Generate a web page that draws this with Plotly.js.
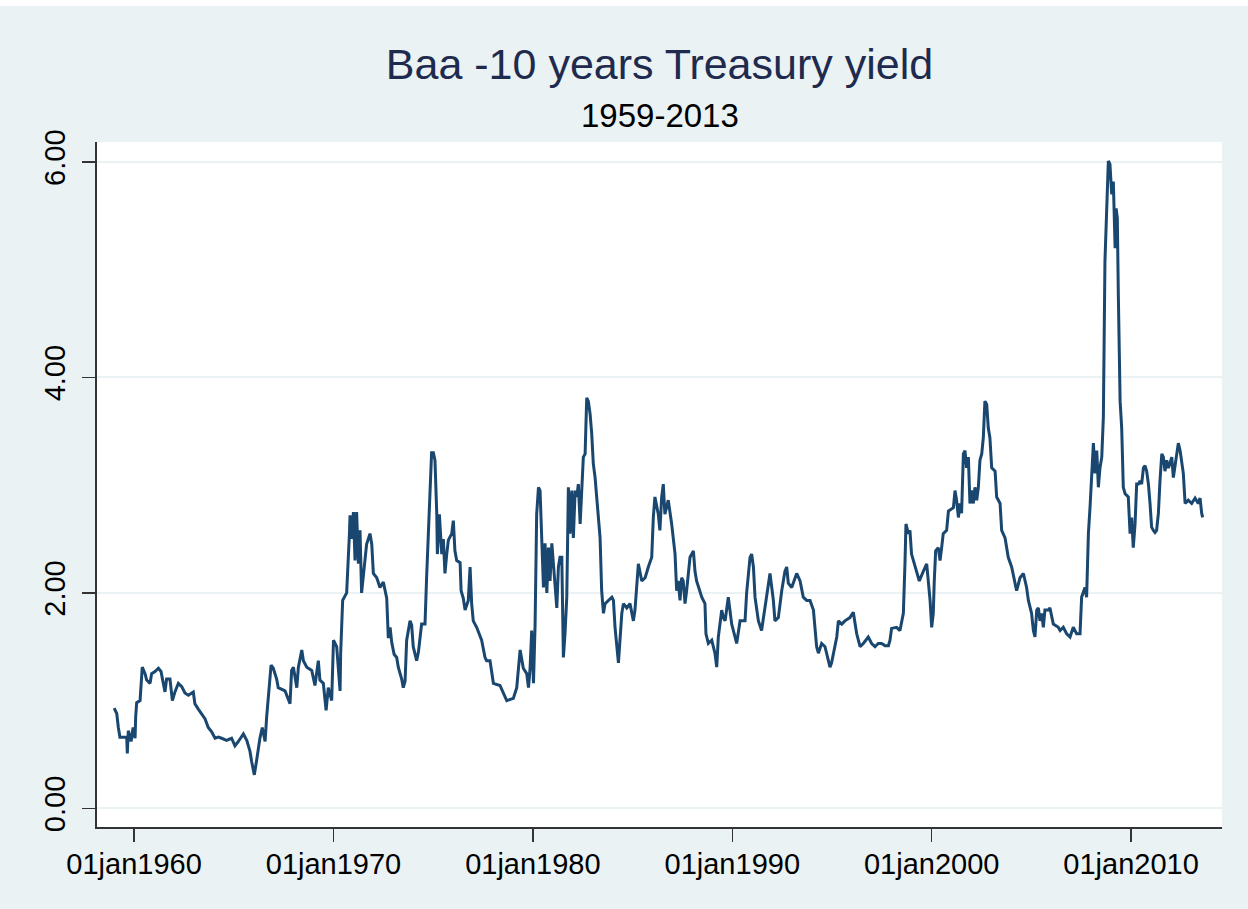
<!DOCTYPE html>
<html>
<head>
<meta charset="utf-8">
<script src="https://cdn.plot.ly/plotly-3.0.1.min.js"></script>
<style>html,body{margin:0;padding:0;background:#ffffff;}#chart{width:1248px;height:909px;}</style>
</head>
<body>
<div id="chart"></div>
<script>
// Baa - 10y Treasury spread (decimal year, percent)
const years1959_1977 = [1959.00,1959.13,1959.21,1959.29,1959.63,1959.66,1959.71,1959.85,1959.95,1960.05,1960.08,1960.13,1960.30,1960.35,1960.41,1960.55,1960.63,1960.80,1960.88,1961.05,1961.22,1961.35,1961.47,1961.55,1961.63,1961.80,1961.92,1962.05,1962.22,1962.39,1962.55,1962.72,1962.97,1963.05,1963.22,1963.39,1963.56,1963.72,1963.89,1964.06,1964.23,1964.39,1964.64,1964.89,1965.06,1965.23,1965.48,1965.65,1965.81,1965.90,1966.03,1966.15,1966.23,1966.31,1966.43,1966.57,1966.65,1966.73,1966.87,1966.98,1967.15,1967.23,1967.57,1967.82,1967.90,1967.99,1968.16,1968.24,1968.41,1968.49,1968.66,1968.91,1969.07,1969.24,1969.32,1969.49,1969.63,1969.74,1969.91,1970.00,1970.16,1970.33,1970.36,1970.46,1970.66,1970.80,1970.83,1970.91,1971.00,1971.08,1971.16,1971.25,1971.33,1971.41,1971.50,1971.66,1971.83,1971.92,1972.00,1972.17,1972.33,1972.50,1972.67,1972.75,1972.84,1972.92,1973.04,1973.17,1973.25,1973.42,1973.50,1973.59,1973.67,1973.84,1973.92,1974.00,1974.17,1974.26,1974.42,1974.59,1974.67,1974.76,1974.84,1974.92,1975.01,1975.09,1975.18,1975.21,1975.31,1975.43,1975.51,1975.59,1975.68,1975.76,1975.93,1976.01,1976.09,1976.18,1976.35,1976.40,1976.51,1976.60,1976.76,1976.85,1976.93,1977.01,1977.18,1977.35,1977.43,1977.60,1977.68];
const spread1959_1977 = [0.93,0.88,0.75,0.66,0.66,0.51,0.72,0.62,0.75,0.65,0.85,0.98,1.00,1.12,1.31,1.25,1.19,1.16,1.25,1.27,1.30,1.27,1.16,1.08,1.20,1.20,1.00,1.08,1.16,1.13,1.07,1.05,1.08,0.97,0.92,0.88,0.83,0.75,0.71,0.65,0.66,0.65,0.63,0.65,0.58,0.62,0.69,0.63,0.53,0.43,0.31,0.45,0.58,0.65,0.75,0.62,0.85,1.03,1.33,1.30,1.20,1.12,1.09,0.97,1.28,1.31,1.12,1.31,1.47,1.37,1.31,1.28,1.14,1.37,1.19,1.16,0.91,1.12,1.00,1.56,1.50,1.09,1.44,1.93,2.00,2.55,2.72,2.50,2.75,2.30,2.75,2.27,2.58,2.00,2.15,2.45,2.55,2.45,2.18,2.14,2.05,2.10,1.95,1.58,1.68,1.54,1.43,1.40,1.31,1.20,1.12,1.18,1.56,1.74,1.70,1.50,1.37,1.45,1.71,1.71,2.14,2.56,2.90,3.30,3.30,3.23,2.73,2.36,2.73,2.36,2.50,2.18,2.36,2.49,2.55,2.67,2.39,2.30,2.28,2.02,1.95,1.84,1.93,2.24,1.90,1.74,1.68,1.59,1.56,1.40,1.37];

const years1977_1997 = [1977.85,1978.02,1978.35,1978.52,1978.69,1979.02,1979.19,1979.36,1979.52,1979.69,1979.78,1979.86,1979.94,1980.03,1980.11,1980.19,1980.28,1980.36,1980.45,1980.53,1980.61,1980.70,1980.78,1980.86,1980.95,1981.03,1981.11,1981.20,1981.28,1981.36,1981.45,1981.53,1981.61,1981.70,1981.78,1981.86,1981.95,1982.03,1982.12,1982.20,1982.28,1982.37,1982.45,1982.53,1982.62,1982.70,1982.78,1982.87,1982.95,1983.03,1983.12,1983.20,1983.29,1983.37,1983.45,1983.54,1983.62,1983.79,1983.96,1984.04,1984.12,1984.29,1984.37,1984.46,1984.54,1984.71,1984.87,1985.04,1985.12,1985.21,1985.29,1985.46,1985.63,1985.79,1985.96,1986.04,1986.12,1986.29,1986.37,1986.46,1986.54,1986.62,1986.79,1986.96,1987.13,1987.21,1987.29,1987.38,1987.46,1987.54,1987.63,1987.71,1987.88,1988.05,1988.13,1988.21,1988.30,1988.47,1988.63,1988.68,1988.80,1988.97,1989.13,1989.22,1989.30,1989.47,1989.55,1989.64,1989.80,1989.89,1989.97,1990.14,1990.22,1990.39,1990.64,1990.72,1990.89,1990.97,1991.06,1991.14,1991.31,1991.47,1991.56,1991.72,1991.89,1991.98,1992.06,1992.14,1992.31,1992.48,1992.64,1992.73,1992.81,1992.98,1993.15,1993.23,1993.40,1993.56,1993.73,1993.90,1994.07,1994.15,1994.23,1994.32,1994.48,1994.65,1994.73,1994.82,1994.90,1994.98,1995.07,1995.15,1995.24,1995.32,1995.49,1995.65,1995.90,1996.07,1996.15,1996.24,1996.41,1996.57,1996.82,1996.99,1997.16,1997.32,1997.49,1997.66,1997.83];
const spread1977_1997 = [1.37,1.16,1.14,1.07,1.00,1.02,1.12,1.47,1.30,1.25,1.12,1.30,1.65,1.16,1.70,2.73,2.98,2.95,2.39,2.05,2.46,2.00,2.42,2.11,2.46,2.24,2.11,1.86,2.24,2.33,2.33,1.40,1.62,1.96,2.98,2.55,2.95,2.51,2.95,2.89,3.01,2.64,2.95,3.26,3.29,3.81,3.78,3.66,3.48,3.20,3.07,2.89,2.70,2.51,2.02,1.81,1.90,1.93,1.96,1.93,1.68,1.35,1.56,1.81,1.90,1.86,1.90,1.74,1.84,2.09,2.27,2.11,2.14,2.24,2.33,2.70,2.89,2.73,2.58,2.89,3.01,2.73,2.86,2.64,2.36,2.02,2.11,1.93,2.14,2.11,1.90,2.02,2.33,2.39,2.20,2.11,2.05,1.96,1.90,1.62,1.53,1.56,1.44,1.31,1.59,1.84,1.77,1.74,1.96,1.81,1.71,1.59,1.53,1.74,1.74,2.00,2.33,2.36,2.24,1.96,1.74,1.65,1.77,1.96,2.18,2.05,1.93,1.74,1.77,2.02,2.20,2.24,2.09,2.05,2.14,2.18,2.11,1.96,1.93,1.93,1.84,1.65,1.50,1.44,1.53,1.50,1.44,1.35,1.31,1.35,1.44,1.53,1.59,1.74,1.71,1.74,1.77,1.82,1.71,1.62,1.50,1.53,1.59,1.53,1.50,1.53,1.53,1.51,1.51];

const years1998_2013 = [1997.91,1997.99,1998.24,1998.41,1998.58,1998.66,1998.71,1998.83,1998.91,1998.99,1999.08,1999.21,1999.38,1999.58,1999.75,1999.83,1999.92,2000.00,2000.08,2000.13,2000.20,2000.33,2000.42,2000.50,2000.58,2000.75,2000.84,2001.09,2001.17,2001.25,2001.34,2001.42,2001.50,2001.59,2001.67,2001.75,2001.84,2001.92,2002.01,2002.09,2002.17,2002.26,2002.34,2002.42,2002.51,2002.59,2002.67,2002.76,2002.84,2002.92,2003.01,2003.18,2003.26,2003.43,2003.51,2003.68,2003.76,2003.84,2004.01,2004.18,2004.26,2004.43,2004.60,2004.76,2004.85,2005.01,2005.10,2005.18,2005.27,2005.35,2005.43,2005.52,2005.60,2005.68,2005.85,2005.93,2006.10,2006.35,2006.44,2006.60,2006.77,2006.94,2007.10,2007.27,2007.44,2007.52,2007.69,2007.77,2007.86,2007.94,2008.03,2008.11,2008.19,2008.28,2008.36,2008.44,2008.53,2008.61,2008.69,2008.78,2008.86,2008.94,2009.03,2009.11,2009.20,2009.25,2009.31,2009.36,2009.45,2009.53,2009.61,2009.70,2009.86,2009.95,2010.03,2010.11,2010.20,2010.28,2010.37,2010.45,2010.53,2010.62,2010.70,2010.78,2010.87,2010.95,2011.03,2011.12,2011.20,2011.28,2011.37,2011.45,2011.54,2011.62,2011.70,2011.79,2011.87,2011.95,2012.04,2012.12,2012.20,2012.29,2012.37,2012.46,2012.54,2012.62,2012.71,2012.87,2013.04,2013.21,2013.37,2013.46,2013.54,2013.59];
const spread1998_2013 = [1.56,1.67,1.68,1.65,1.81,2.27,2.64,2.55,2.58,2.36,2.30,2.20,2.11,2.20,2.27,2.11,1.93,1.68,1.81,2.11,2.39,2.42,2.30,2.42,2.55,2.58,2.76,2.79,2.95,2.86,2.70,2.83,2.74,3.29,3.32,3.16,3.26,2.83,2.95,2.83,2.98,2.86,2.98,3.23,3.29,3.44,3.78,3.75,3.53,3.44,3.16,3.13,2.89,2.83,2.58,2.51,2.42,2.33,2.24,2.11,2.02,2.14,2.18,2.05,1.93,1.81,1.65,1.59,1.84,1.86,1.74,1.81,1.68,1.84,1.84,1.86,1.71,1.68,1.65,1.68,1.62,1.59,1.68,1.62,1.62,1.96,2.05,1.96,2.55,2.79,3.07,3.39,3.11,3.32,2.98,3.16,3.26,3.63,5.08,5.67,6.01,5.98,5.70,5.82,5.20,5.57,5.48,4.78,3.78,3.53,2.98,2.92,2.89,2.55,2.70,2.42,2.64,3.01,3.01,3.04,3.01,3.16,3.18,3.13,3.01,2.83,2.61,2.58,2.56,2.58,2.74,3.04,3.29,3.26,3.13,3.23,3.16,3.20,3.26,3.07,3.16,3.29,3.39,3.32,3.20,3.11,2.83,2.86,2.83,2.88,2.83,2.88,2.74,2.70];

const xTickVals = [1960,1970,1980,1990,2000,2010];
const xTickText = ["01jan1960","01jan1970","01jan1980","01jan1990","01jan2000","01jan2010"];
const yTickVals = [0,2,4,6];
const yTickText = ["0.00","2.00","4.00","6.00"];
const titleText = "Baa -10 years Treasury yield";
const subtitleText = "1959-2013";

const xs = years1959_1977.concat(years1977_1997, years1998_2013);
const ys = spread1959_1977.concat(spread1977_1997, spread1998_2013);

const trace = {
  x: xs, y: ys, type: 'scatter', mode: 'lines',
  line: {color: '#1a476f', width: 3},
  hoverinfo: 'x+y'
};

const FONT = 'Arial, "Liberation Sans", sans-serif';
const layout = {
  width: 1248, height: 909,
  paper_bgcolor: '#eaf2f3',
  plot_bgcolor: '#ffffff',
  margin: {l: 97, r: 26, t: 142, b: 82, pad: 0},
  showlegend: false,
  font: {family: FONT, color: '#000000'},
  title: {
    text: titleText,
    font: {family: FONT, size: 43, color: '#1e2a4e'},
    x: 0.5, xref: 'paper', xanchor: 'center',
    y: 1 - 64/909, yref: 'container', yanchor: 'middle'
  },
  annotations: [{
    text: subtitleText, xref: 'paper', yref: 'paper',
    x: 0.5, y: (827 - 115) / 685, xanchor: 'center', yanchor: 'middle',
    showarrow: false, font: {family: FONT, size: 33, color: '#000000'}
  }],
  xaxis: {
    range: [1958.14, 2014.56],
    tickvals: xTickVals, ticktext: xTickText,
    ticks: 'outside', ticklen: 13, tickwidth: 1.5, tickcolor: '#333333',
    showline: true, linecolor: '#333333', linewidth: 2, mirror: false,
    showgrid: false, zeroline: false,
    tickfont: {family: FONT, size: 29, color: '#000000'},
    ticklabelstandoff: -3
  },
  yaxis: {
    range: [-0.174, 6.186],
    tickvals: yTickVals, ticktext: yTickText,
    ticks: 'outside', ticklen: 13, tickwidth: 1.5, tickcolor: '#333333',
    showline: true, linecolor: '#333333', linewidth: 2, mirror: false,
    showgrid: true, gridcolor: '#eaf2f3', gridwidth: 2,
    zeroline: false, tickangle: -90,
    tickfont: {family: FONT, size: 29, color: '#000000'},
    ticklabelstandoff: 5
  },
  shapes: [{
    type: 'rect', xref: 'paper', yref: 'paper',
    x0: -0.2, x1: 1.1, y0: (827 - 6) / 685, y1: (827 + 5) / 685,
    fillcolor: '#ffffff', line: {width: 0}, layer: 'below'
  }]
};

Plotly.newPlot('chart', [trace], layout, {displayModeBar: false, staticPlot: true});
</script>
</body>
</html>
